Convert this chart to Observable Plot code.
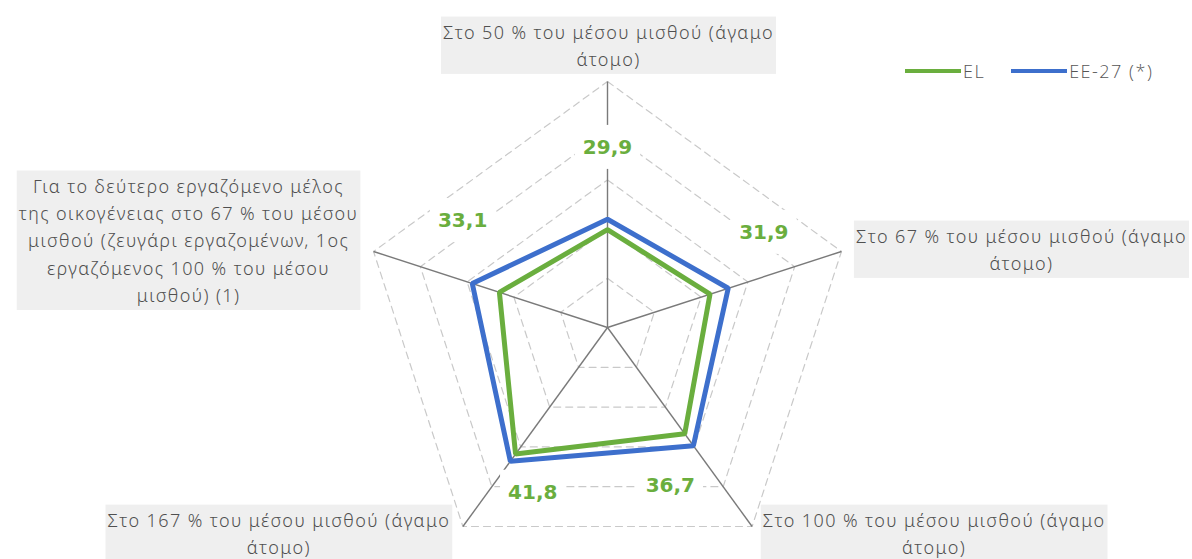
<!DOCTYPE html>
<html><head><meta charset="utf-8">
<script src="https://cdn.jsdelivr.net/npm/d3@7"></script>
<script src="https://cdn.jsdelivr.net/npm/@observablehq/plot@0.6"></script>
<style>
body{margin:0;background:#fff;}
#chart{position:relative;width:1192px;height:559px;overflow:hidden;font-family:"Open Sans",sans-serif;}
#legend{position:absolute;left:905px;top:58px;display:flex;align-items:center;font-size:18px;line-height:26px;color:#555;font-family:"Open Sans",sans-serif;font-weight:300;letter-spacing:1.5px;}
#legend .sw{display:inline-block;width:56px;height:4px;margin-right:2px;}
#legend .item{display:flex;align-items:center;margin-right:26px;}
.axlab text{letter-spacing:1.4px;}
</style></head><body><div id="chart"></div>
<script>
// ---- data ----
const axisLabels = [
  "Στο 50 % του μέσου μισθού (άγαμο\nάτομο)",
  "Στο 67 % του μέσου μισθού (άγαμο\nάτομο)",
  "Στο 100 % του μέσου μισθού (άγαμο\nάτομο)",
  "Στο 167 % του μέσου μισθού (άγαμο\nάτομο)",
  "Για το δεύτερο εργαζόμενο μέλος\nτης οικογένειας στο 67 % του μέσου\nμισθού (ζευγάρι εργαζομένων, 1ος\nεργαζόμενος 100 % του μέσου\nμισθού) (1)"
];
const seriesNames = ["EL", "EE-27 (*)"];
const elValues = [29.9, 31.9, 36.7, 41.8, 33.1];
const eu27Values = [32.0, 35.8, 39.7, 43.6, 38.9];
const elValueLabels = ["29,9", "31,9", "36,7", "41,8", "33,1"];
const gridTicks = [20, 30, 40, 50, 60];
const scaleMin = 10, scaleMax = 60;

// ---- layout / style ----
const W = 1192, H = 559, CX = 607, CY = 327, R = 246;
const colors = ["#6aae3e", "#3d6fcc"];
const k = (scaleMax - scaleMin) / R; // data units per px
const n = axisLabels.length;
const ang = i => i * 2 * Math.PI / n;
const polar = (v, i, da = 0) => ({x: (v - scaleMin) * Math.sin(ang(i) + da), y: (v - scaleMin) * Math.cos(ang(i) + da)});
// axis-label offsets (px) from axis ends
const labelOffsets = [[1, -38], [180, -4], [182, 5], [-184, 5], [-185, -13]];
// value-label placement: radius px, angle offset deg
const valueLabelPos = [[180, 0], [183, -13.3], [170, 14.3], [181, -11.6], [180, 18.4]];

const polys = [];
[elValues, eu27Values].forEach((vals, s) => vals.forEach((v, i) => polys.push({series: seriesNames[s], ...polar(v, i)})));
const grid = [];
gridTicks.forEach(t => axisLabels.forEach((_, i) => grid.push({t, ...polar(t, i)})));
const spokes = axisLabels.map((lab, i) => ({x1: 0, y1: 0, ...(({x, y}) => ({x2: x, y2: y}))(polar(scaleMax, i))}));
const axisText = axisLabels.map((lab, i) => ({lab, ...polar(scaleMax, i), dx: labelOffsets[i][0], dy: labelOffsets[i][1]}));
const valText = elValueLabels.map((lab, i) => ({lab, ...polar(scaleMin + valueLabelPos[i][0] * k, i, valueLabelPos[i][1] * Math.PI / 180)}));

const plot = Plot.plot({
  width: W, height: H, margin: 0,
  x: {domain: [-CX * k, (W - CX) * k], axis: null},
  y: {domain: [-(H - CY) * k, CY * k], axis: null},
  color: {domain: seriesNames, range: colors},
  style: {background: "transparent"},
  marks: [
    Plot.line(grid, {x: "x", y: "y", z: "t", curve: "linear-closed", stroke: "#c9c9c9", strokeWidth: 1.2, strokeDasharray: "7,5"}),
    Plot.link(spokes, {x1: "x1", y1: "y1", x2: "x2", y2: "y2", stroke: "#7a7a7a", strokeWidth: 1.4}),
    Plot.line(polys, {x: "x", y: "y", z: "series", stroke: "series", curve: "linear-closed", strokeWidth: 5, strokeLinejoin: "miter"}),
    ...axisText.map(d => Plot.text([d], {x: "x", y: "y", text: "lab", dx: d.dx, dy: d.dy, lineAnchor: "middle", textAnchor: "middle", fontSize: 18, lineHeight: 1.52, fill: "#505050", fontWeight: 300, className: "axlab"})),
    Plot.text(valText, {x: "x", y: "y", text: "lab", fill: colors[0], fontSize: 20, fontWeight: "bold", fontFamily: "DejaVu Sans", className: "vallab"})
  ]
});
const chart = document.getElementById("chart");
chart.appendChild(plot);

// background boxes behind labels
function boxes(cls, fill, px, py) {
  plot.querySelectorAll("g." + cls).forEach(g => {
    g.querySelectorAll("text").forEach(t => {
      const b = t.getBBox();
      const r = document.createElementNS("http://www.w3.org/2000/svg", "rect");
      r.setAttribute("x", b.x - px); r.setAttribute("y", b.y - py);
      r.setAttribute("width", b.width + 2 * px); r.setAttribute("height", b.height + 2 * py);
      r.setAttribute("fill", fill);
      const tr = t.getAttribute("transform");
      if (tr) r.setAttribute("transform", tr);
      t.parentNode.insertBefore(r, t);
    });
  });
}
boxes("axlab", "#efefef", 2, 3);
boxes("vallab", "#ffffff", 8, 10);

// legend
const leg = document.createElement("div");
leg.id = "legend";
seriesNames.forEach((s, i) => {
  const it = document.createElement("span"); it.className = "item";
  const sw = document.createElement("span"); sw.className = "sw"; sw.style.background = colors[i];
  it.appendChild(sw); it.appendChild(document.createTextNode(s));
  leg.appendChild(it);
});
chart.appendChild(leg);
</script></body></html>
